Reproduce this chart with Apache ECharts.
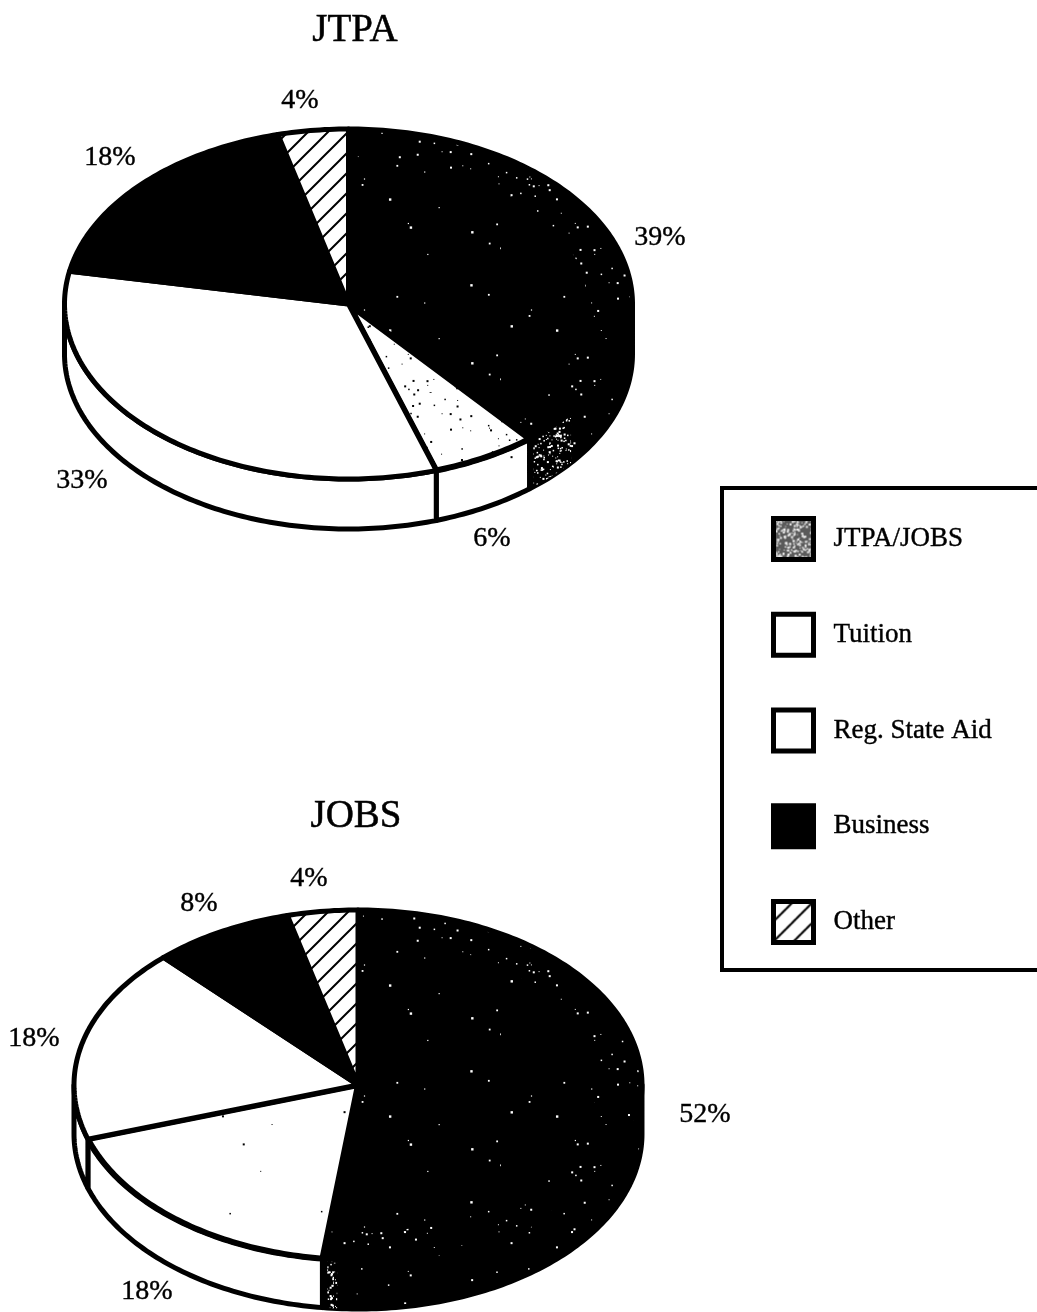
<!DOCTYPE html>
<html>
<head>
<meta charset="utf-8">
<style>html,body{margin:0;padding:0;background:#fff}#chart{width:1037px;height:1312px}</style>
<script src="https://cdn.jsdelivr.net/npm/echarts@6/dist/echarts.min.js"></script>
</head>
<body>
<div id="chart"></div>
<script>
// Funding sources by program, in percent of each program's budget.
const categories = ['JTPA/JOBS', 'Tuition', 'Reg. State Aid', 'Business', 'Other'];
const programs = ['JTPA', 'JOBS'];
const jtpaShares = [39, 6, 33, 18, 4];
const jobsShares = [52, 18, 18, 8, 4];
const sharesByProgram = [jtpaShares, jobsShares];

// Geometry of the tilted discs and placement of their percent labels.
const discs = [
  { cx: 348.5, cy: 304, rx: 284, ry: 175, depth: 50, patch: 12 },
  { cx: 358, cy: 1085, rx: 284, ry: 175, depth: 49, patch: 3 }
];
const jtpaLabelSpots = [[660, 238], [492, 539], [82, 481], [110, 158], [300, 101]];
const jobsLabelSpots = [[705, 1115], [147, 1292], [34, 1039], [199, 904], [309, 879]];
const labelSpots = [jtpaLabelSpots, jobsLabelSpots];

const FONT = '"Liberation Serif", serif';
const INK = '#000';

// Fixed hash, so the printed grain is identical on every render.
function grain(i) {
  const v = Math.sin(i * 12.9898) * 43758.5453;
  return v - Math.floor(v);
}
// Tileable print texture of small square specks.
function speckle(base, dot, count, size) {
  const c = document.createElement('canvas');
  c.width = 167; c.height = 131;
  const g = c.getContext('2d');
  g.fillStyle = base; g.fillRect(0, 0, c.width, c.height);
  g.fillStyle = dot;
  for (let i = 1; i <= count; i++) {
    const x = grain(i) * c.width;
    const y = grain(i + 5000) * c.height;
    const s = size * (1 + (i % 3) * 0.5);
    g.fillRect(x, y, s, s);
  }
  return { image: c, repeat: 'repeat' };
}
function hatch() {
  const c = document.createElement('canvas');
  c.width = 20; c.height = 20;
  const g = c.getContext('2d');
  g.fillStyle = '#fff'; g.fillRect(0, 0, 20, 20);
  g.strokeStyle = INK; g.lineWidth = 2;
  g.beginPath();
  g.moveTo(-2, 22); g.lineTo(22, -2);
  g.moveTo(-2, 2); g.lineTo(2, -2);
  g.moveTo(18, 22); g.lineTo(22, 18);
  g.stroke();
  return { image: c, repeat: 'repeat' };
}

const darkCore = speckle(INK, '#fff', 16, 1.2);
const darkRim = speckle(INK, '#fff', 90, 1);
const darkWall = speckle(INK, '#fff', 30, 1);
const darkPatch = speckle(INK, '#fff', 1500, 1);
const dottedWhite = speckle('#fff', INK, 130, 1);
const fewDots = speckle('#fff', INK, 8, 1);
const hatched = hatch();
const legendSpeck = speckle('#5a5a5a', '#f2f2f2', 3000, 1);

// Per program: [JTPA, JOBS] fill of each slice's top face and side wall.
const topFills = [[darkRim, darkRim], [dottedWhite, fewDots], ['#fff', '#fff'], [INK, INK], [hatched, hatched]];
const wallFills = [[darkWall, darkWall], [fewDots, '#fff'], ['#fff', '#fff'], [INK, INK], [hatched, hatched]];
const legendFills = [legendSpeck, '#fff', '#fff', INK, hatched];

// A point on the rim, with angles measured clockwise from the top of the disc.
function rimPoint(d, deg, scale, drop) {
  const a = deg * Math.PI / 180;
  return [d.cx + d.rx * scale * Math.sin(a), d.cy + (drop || 0) - d.ry * scale * Math.cos(a)];
}
function arc(d, from, to, scale, drop) {
  const pts = [];
  const n = Math.max(2, Math.ceil(Math.abs(to - from)));
  for (let i = 0; i <= n; i++) pts.push(rimPoint(d, from + (to - from) * i / n, scale, drop));
  return pts;
}
function wallBand(d, from, to) {
  return arc(d, from, to, 1, 0).concat(arc(d, to, from, 1, d.depth));
}

function renderSlice(catIndex) {
  return function (params, api) {
    const program = api.value(0);
    const value = api.value(1);
    const shares = sharesByProgram[program];
    const total = shares.reduce((a, b) => a + b, 0);
    const before = shares.slice(0, catIndex).reduce((a, b) => a + b, 0);
    const from = before / total * 360;
    const to = (before + value) / total * 360;
    const d = discs[program];
    const children = [];

    // Side wall: only the part of the rim that faces the viewer.
    const wallFrom = Math.max(from, 90);
    const wallTo = Math.min(to, 270);
    if (wallTo > wallFrom) {
      children.push({
        type: 'polygon',
        shape: { points: wallBand(d, wallFrom, wallTo) },
        style: { fill: wallFills[catIndex][program], stroke: INK, lineWidth: 5, lineJoin: 'round' }
      });
      // Ink thins out on the funding wall where it meets the next slice.
      if (catIndex === 0) {
        children.push({
          type: 'polygon',
          shape: { points: wallBand(d, wallTo - d.patch, wallTo - 1) },
          style: { fill: darkPatch }
        });
      }
    }
    // Top face of the slice.
    children.push({
      type: 'polygon',
      shape: { points: [[d.cx, d.cy]].concat(arc(d, from, to, 1, 0)) },
      style: { fill: topFills[catIndex][program], stroke: INK, lineWidth: catIndex === 1 ? 6 : 5, lineJoin: 'round' }
    });
    // The funding slice prints solid toward its centre, with only stray specks.
    if (catIndex === 0) {
      children.push({
        type: 'polygon',
        shape: { points: [[d.cx, d.cy]].concat(arc(d, from, to, 0.84, 0)) },
        style: { fill: darkCore }
      });
    }
    const spot = labelSpots[program][catIndex];
    children.push({
      type: 'text',
      x: spot[0], y: spot[1],
      style: {
        text: value + '%', fill: INK, font: '28px ' + FONT,
        stroke: INK, lineWidth: 0.4,
        align: 'center', verticalAlign: 'middle'
      }
    });
    return { type: 'group', children };
  };
}

const series = categories.map((name, i) => ({
  type: 'custom',
  name,
  coordinateSystem: 'none',
  silent: true,
  animation: false,
  clip: false,
  itemStyle: { color: legendFills[i], borderColor: INK, borderWidth: 5 },
  data: programs.map((p, k) => ({ name: p, value: [k, sharesByProgram[k][i]] })),
  renderItem: renderSlice(i)
}));

const titleStyle = { fontFamily: FONT, fontSize: 39, fontWeight: 'normal', color: INK, textBorderColor: INK, textBorderWidth: 0.5 };
const chart = echarts.init(document.getElementById('chart'), null, { renderer: 'canvas' });
chart.setOption({
  backgroundColor: '#fff',
  animation: false,
  title: [
    { text: programs[0], left: 350, top: 6, textAlign: 'center', textStyle: titleStyle },
    { text: programs[1], left: 351, top: 792, textAlign: 'center', textStyle: titleStyle }
  ],
  legend: {
    orient: 'vertical',
    left: 771, top: 516,
    padding: 0,
    itemWidth: 40, itemHeight: 41,
    itemGap: 49.75,
    selectedMode: false,
    icon: 'rect',
    textStyle: {
      fontFamily: FONT, fontSize: 27, color: INK, padding: [0, 0, 0, 15],
      textBorderColor: INK, textBorderWidth: 0.4
    },
    data: categories.map((name, i) => ({
      name,
      icon: 'rect',
      itemStyle: { color: legendFills[i], borderColor: INK, borderWidth: 5 }
    }))
  },
  graphic: [{
    type: 'rect',
    silent: true,
    shape: { x: 722, y: 488, width: 400, height: 482 },
    style: { fill: 'transparent', stroke: INK, lineWidth: 4 }
  }],
  series
});
</script>
</body>
</html>
